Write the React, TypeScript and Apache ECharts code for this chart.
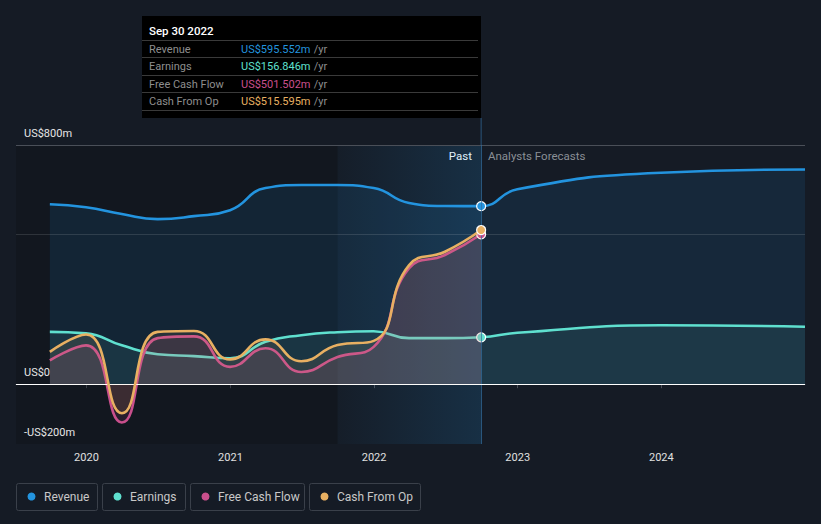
import React, { useEffect, useRef } from "react";
import * as echarts from "echarts";

const pastDates = ["2019-09-30", "2019-12-31", "2020-03-31", "2020-06-30", "2020-09-30", "2020-12-31", "2021-03-31", "2021-06-30", "2021-09-30", "2021-12-31", "2022-03-31", "2022-06-30", "2022-09-30"];
const forecastDates = ["2022-12-31", "2023-12-31", "2024-12-31"];
const revenuePast = [602, 592, 569, 552, 562, 582, 656, 666, 666, 656, 606, 596, 595.552];
const revenueForecast = [652, 707, 718];
const earningsPast = [175, 170, 130, 100, 94, 87, 142, 164, 174, 177, 154, 154, 156.846];
const earningsForecast = [172, 197, 192];
const fcfPast = [80, 130, -128, 154, 160, 58, 120, 41, 91, 125, 388, 432, 501.502];
const cfoPast = [108, 166, -97, 175, 178, 83, 150, 77, 131, 145, 398, 443, 515.595];

const yearTicks = ["2020-01-01", "2021-01-01", "2022-01-01", "2023-01-01", "2024-01-01"];
const yTickValues = [800, 0, -200];
const yTickLabels = ["US$800m", "US$0", "-US$200m"];

const seriesNames = ["Revenue", "Earnings", "Free Cash Flow", "Cash From Op"];
const seriesColors = ["#2394df", "#5fe0cf", "#c94f8c", "#e8b062"];
const tooltipValues = ["US$595.552m", "US$156.846m", "US$501.502m", "US$515.595m"];
const tooltipTitle = "Sep 30 2022";

const ts = (d: string) => new Date(d + "T00:00:00Z").getTime();
const X_MIN = ts("2019-07-06");
const X_MAX = ts("2024-12-31");
const SPLIT = ts("2021-09-30");
const NOW = ts("2022-09-30");

function build(dates: string[], vals: number[], color: string, markLast: boolean) {
  return dates.map((d, i) => {
    const item: any = { value: [ts(d), vals[i]] };
    if (markLast && d === "2022-09-30") {
      item.symbol = "circle";
      item.symbolSize = 9;
      item.itemStyle = { color, borderColor: "#fff", borderWidth: 1.2 };
    }
    return item;
  });
}

export default function App() {
  const ref = useRef<HTMLDivElement>(null);
  useEffect(() => {
    if (!ref.current) return;
    const chart = echarts.init(ref.current, undefined, { renderer: "svg" });
    const font = "Roboto, sans-serif";
    const lineBase = (name: string, color: string, data: any[], area: string, z: number) => ({
      name,
      type: "line",
      data,
      smooth: 0.5,
      symbol: "none",
      showSymbol: true,
      lineStyle: { color, width: 2.6 },
      itemStyle: { color },
      areaStyle: { color: area },
      z,
      silent: true,
    });

    const graphic: any[] = [
      { type: "rect", shape: { x: 142, y: 16, width: 339, height: 102 }, style: { fill: "#000" }, z: 100 },
      { type: "text", x: 149, y: 31, style: { text: tooltipTitle, fill: "#fff", font: `500 11.5px ${font}`, verticalAlign: "middle" }, z: 101 },
    ];
    const sepY = [40.5, 57.5, 75.5, 92.5, 110.5];
    sepY.forEach((y) => graphic.push({ type: "line", shape: { x1: 142, y1: y, x2: 478, y2: y }, style: { stroke: "#3a3a3a", lineWidth: 1 }, z: 101 }));
    seriesNames.forEach((n, i) => {
      const y = 49 + i * 17.5;
      graphic.push({ type: "text", x: 149, y, style: { text: n, fill: "#8e8e8e", font: `11px ${font}`, verticalAlign: "middle" }, z: 101 });
      graphic.push({
        type: "text",
        x: 241,
        y,
        style: {
          text: `{v|${tooltipValues[i]}} {u|/yr}`,
          verticalAlign: "middle",
          rich: {
            v: { fill: seriesColors[i], font: `11px ${font}` },
            u: { fill: "#8e8e8e", font: `11px ${font}` },
          },
        },
        z: 101,
      });
    });
    const legendBoxes = [
      { x: 16, w: 81 },
      { x: 102, w: 83 },
      { x: 190, w: 114 },
      { x: 309, w: 111 },
    ];
    legendBoxes.forEach((b, i) => {
      graphic.push({ type: "rect", shape: { x: b.x + 0.5, y: 483.5, width: b.w, height: 27, r: 2 }, style: { fill: "transparent", stroke: "#3a404a", lineWidth: 1 } });
      graphic.push({ type: "circle", shape: { cx: b.x + 15.5, cy: 496.5, r: 4 }, style: { fill: seriesColors[i] } });
      graphic.push({ type: "text", x: b.x + 28, y: 497, style: { text: seriesNames[i], fill: "#c8c8c8", font: `12px ${font}`, verticalAlign: "middle" } });
    });
    graphic.push({ type: "text", x: 472, y: 156, style: { text: "Past", fill: "#fff", font: `11.5px ${font}`, align: "right", verticalAlign: "middle" } });
    graphic.push({ type: "text", x: 488, y: 156, style: { text: "Analysts Forecasts", fill: "#8a8f96", font: `11.5px ${font}`, align: "left", verticalAlign: "middle" } });

    chart.setOption({
      animation: false,
      backgroundColor: "#151b25",
      textStyle: { fontFamily: font },
      grid: { left: 16, right: 16, top: 145, bottom: 80, containLabel: false },
      xAxis: {
        type: "value",
        min: X_MIN,
        max: X_MAX,
        axisLine: { show: true, lineStyle: { color: "#4a4f58", width: 1 } },
        axisTick: { show: true, customValues: yearTicks.map(ts), length: 4, lineStyle: { color: "#4a4f58" } },
        axisLabel: {
          customValues: yearTicks.map(ts),
          formatter: (v: number) => String(new Date(v).getUTCFullYear()),
          color: "#e0e0e0",
          fontSize: 11,
          margin: 8,
        },
        splitLine: { show: false },
      },
      yAxis: {
        type: "value",
        min: -200,
        max: 800,
        interval: 100,
        axisLine: { show: false },
        axisTick: { show: false },
        splitLine: { show: false },
        axisLabel: {
          inside: true,
          margin: 8,
          color: "#e6e6e6",
          fontSize: 11,
          verticalAlign: "bottom",
          padding: [0, 0, 6, 0],
          formatter: (v: number) => {
            const i = yTickValues.indexOf(v);
            return i >= 0 ? yTickLabels[i] : "";
          },
        },
        z: 10,
      },
      graphic,
      series: [
        {
          name: "bg",
          type: "line",
          data: [],
          z: 1,
          silent: true,
          markArea: {
            silent: true,
            data: [
              [
                { xAxis: X_MIN, itemStyle: { color: "rgba(8,10,14,0.22)" } },
                { xAxis: SPLIT },
              ],
              [
                {
                  xAxis: SPLIT,
                  itemStyle: {
                    color: new echarts.graphic.LinearGradient(0, 0, 1, 0, [
                      { offset: 0, color: "rgba(35,148,223,0.02)" },
                      { offset: 1, color: "rgba(35,148,223,0.17)" },
                    ]),
                  },
                },
                { xAxis: NOW },
              ],
            ],
          },
          markLine: {
            silent: true,
            symbol: "none",
            label: { show: false },
            data: [
              { yAxis: 800, lineStyle: { color: "#4a4f58", width: 1, type: "solid" } },
              { yAxis: 500, lineStyle: { color: "rgba(255,255,255,0.12)", width: 1, type: "solid" } },
              { xAxis: NOW, lineStyle: { color: "rgba(50,110,160,0.7)", width: 1, type: "solid" } },
            ],
          },
        },
        lineBase("Revenue", seriesColors[0], build([...pastDates, ...forecastDates], [...revenuePast, ...revenueForecast], seriesColors[0], true), "rgba(35,148,223,0.17)", 2),
        lineBase("Earnings", seriesColors[1], build([...pastDates, ...forecastDates], [...earningsPast, ...earningsForecast], seriesColors[1], true), "rgba(95,224,207,0.13)", 3),
        lineBase("Free Cash Flow", seriesColors[2], build(pastDates, fcfPast, seriesColors[2], true), "rgba(201,79,140,0.18)", 4),
        lineBase("Cash From Op", seriesColors[3], build(pastDates, cfoPast, seriesColors[3], true), "rgba(232,176,98,0.14)", 5),
        {
          name: "zero",
          type: "line",
          data: [],
          z: 6,
          silent: true,
          markLine: {
            silent: true,
            symbol: "none",
            label: { show: false },
            data: [{ yAxis: 0, lineStyle: { color: "#ffffff", width: 1.2, type: "solid" } }],
          },
        },
      ],
    });

    const px = chart.convertToPixel({ xAxisIndex: 0 }, NOW) as number;
    chart.setOption({
      graphic: [
        ...graphic,
        { type: "line", shape: { x1: px, y1: 118, x2: px, y2: 145 }, style: { stroke: "rgba(50,110,160,0.7)", lineWidth: 1 } },
      ],
    }, { replaceMerge: ["graphic"] });

    return () => chart.dispose();
  }, []);
  return <div ref={ref} style={{ width: 821, height: 524, position: "fixed", left: 0, top: 0 }} />;
}
